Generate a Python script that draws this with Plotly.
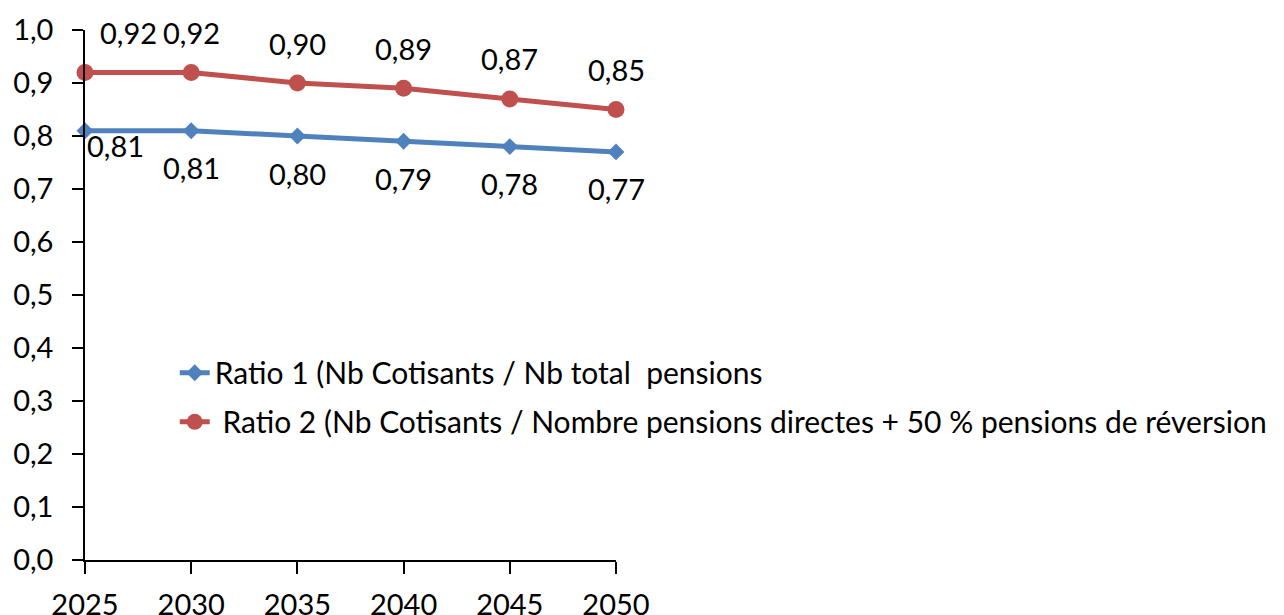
import plotly.graph_objects as go

years = [2025, 2030, 2035, 2040, 2045, 2050]
ratio1 = [0.81, 0.81, 0.80, 0.79, 0.78, 0.77]
ratio2 = [0.92, 0.92, 0.90, 0.89, 0.87, 0.85]
name1 = "Ratio 1 (Nb Cotisants / Nb total  pensions"
name2 = " Ratio 2 (Nb Cotisants / Nombre pensions directes + 50 % pensions de réversion"

BLUE = "#4F81BD"
RED = "#C0504D"
FONT = "Lato"

fig = go.Figure()
fig.add_trace(go.Scatter(x=years, y=ratio1, mode="lines+markers", name=name1,
                         line=dict(color=BLUE, width=5),
                         marker=dict(symbol="diamond", size=13, color=BLUE),
                         legendgroup="a", cliponaxis=False))
fig.add_trace(go.Scatter(x=years, y=ratio2, mode="lines+markers", name=name2,
                         line=dict(color=RED, width=5),
                         marker=dict(symbol="circle", size=17, color=RED),
                         legendgroup="b", cliponaxis=False))

def fmt(v):
    return f"{v:.2f}".replace(".", ",")

for i, (x, v) in enumerate(zip(years, ratio2)):
    fig.add_annotation(x=x, y=v, text=fmt(v), showarrow=False,
                       xshift=43 if i == 0 else 0, yshift=40,
                       font=dict(family=FONT, size=29, color="#000000"))
for i, (x, v) in enumerate(zip(years, ratio1)):
    fig.add_annotation(x=x, y=v, text=fmt(v), showarrow=False,
                       xshift=30 if i == 0 else 0, yshift=-15 if i == 0 else -37,
                       font=dict(family=FONT, size=29, color="#000000"))

fig.update_layout(
    width=1284, height=615,
    margin=dict(l=77, r=676, t=22, b=63, autoexpand=False),
    paper_bgcolor="white", plot_bgcolor="white",
    separators=", ",
    font=dict(family=FONT, size=29, color="#000000"),
    legend=dict(x=0.169, y=0.307, xanchor="left", yanchor="middle",
                bgcolor="rgba(0,0,0,0)", font=dict(family=FONT, size=30),
                tracegroupgap=7, traceorder="grouped"),
    showlegend=True,
)
fig.update_xaxes(range=[2025, 2050], tickvals=years, ticktext=[str(y) for y in years],
                 automargin=False, ticklabelstandoff=6,
                 showgrid=False, zeroline=False, showline=True, linecolor="#000000",
                 linewidth=1.5, ticks="outside", ticklen=12, tickcolor="#000000",
                 tickwidth=1.5)
fig.update_yaxes(range=[0, 1], dtick=0.1, tick0=0, tickformat=".1f",
                 automargin=False, ticklabelstandoff=13,
                 showgrid=False, zeroline=False, showline=True, linecolor="#000000",
                 linewidth=1.5, ticks="outside", ticklen=11, tickcolor="#000000",
                 tickwidth=1.5)

fig.write_html("out.html")
